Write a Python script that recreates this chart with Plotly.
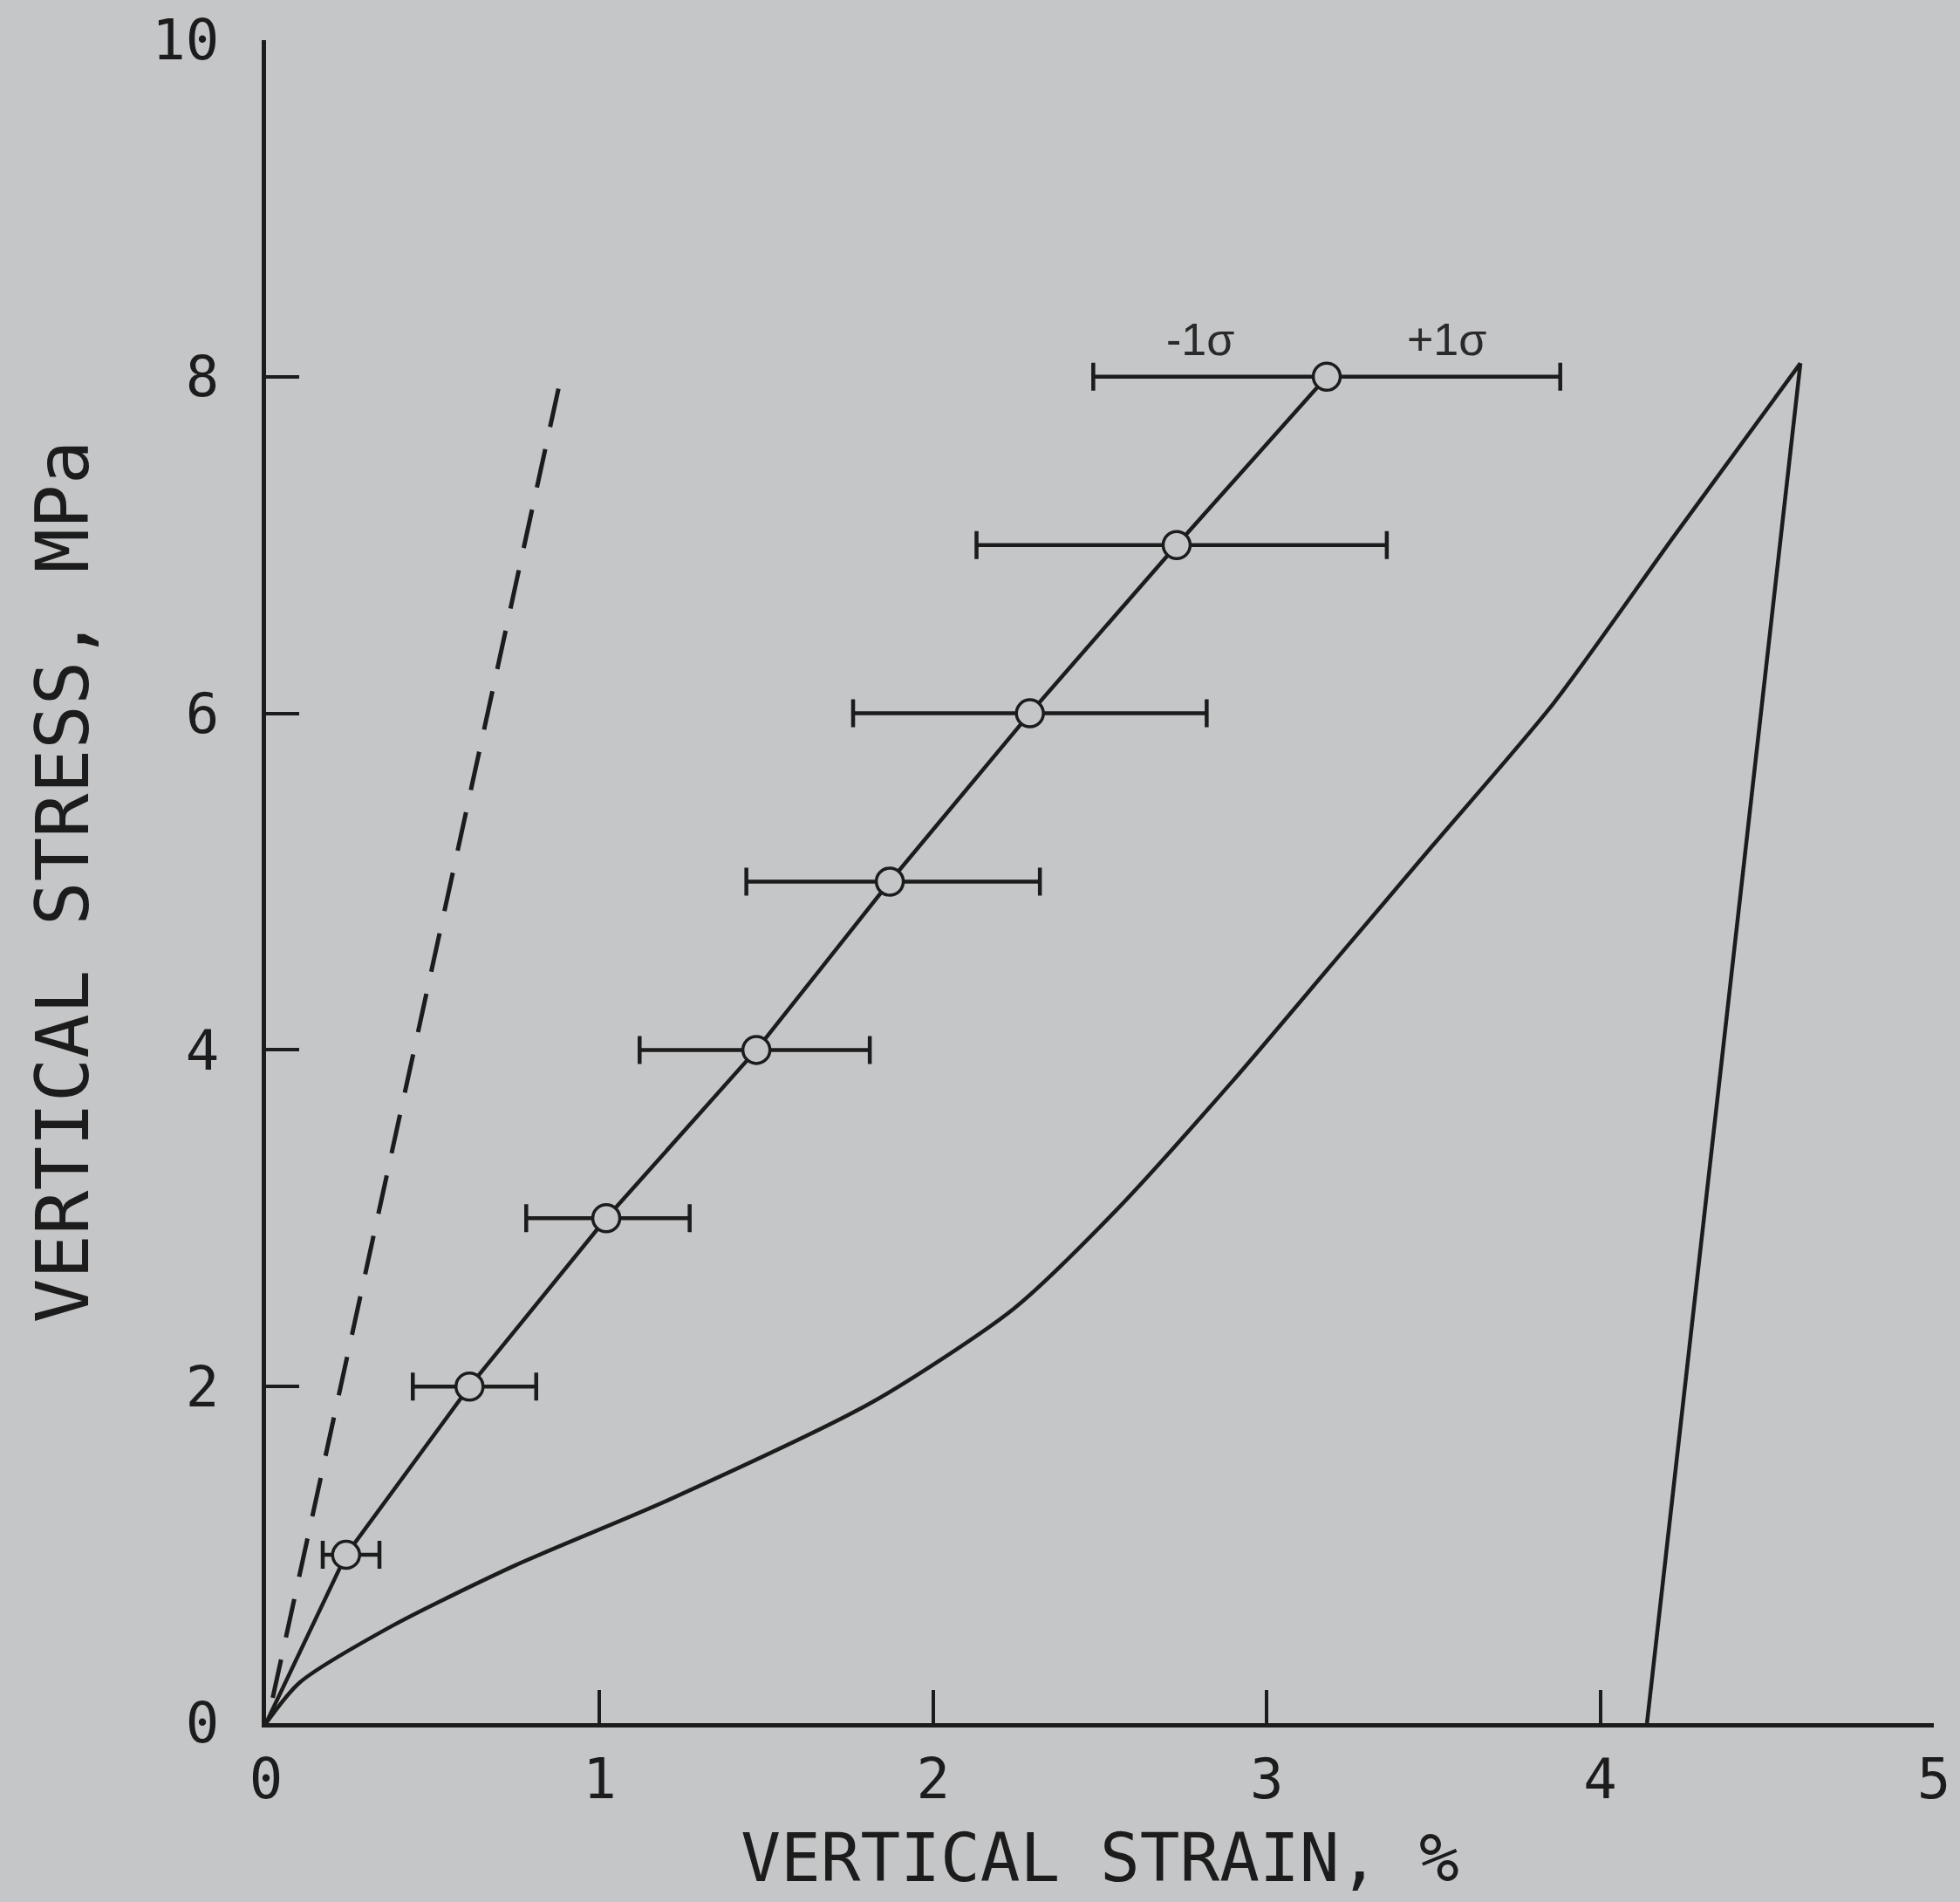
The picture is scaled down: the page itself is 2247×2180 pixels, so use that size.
import plotly.graph_objects as go

# ---- data ----
stress_levels = [1, 2, 3, 4, 5, 6, 7, 8]                      # MPa
mean_strain = [0.24, 0.61, 1.02, 1.47, 1.87, 2.29, 2.73, 3.18]  # %
minus_sigma = [0.07, 0.17, 0.24, 0.35, 0.43, 0.53, 0.60, 0.70]
plus_sigma = [0.10, 0.20, 0.25, 0.34, 0.45, 0.53, 0.63, 0.70]

dashed_strain = [0.02, 0.89]
dashed_stress = [0.15, 8.05]

loading_strain = [0.0, 0.10, 0.38, 0.75, 1.20, 1.82, 2.24, 2.55, 2.90,
                  3.20, 3.50, 3.86, 4.22, 4.60]
loading_stress = [0.0, 0.24, 0.58, 0.94, 1.32, 1.91, 2.46, 3.05, 3.82,
                  4.52, 5.22, 6.06, 7.05, 8.08]
unloading_strain = [4.60, 4.14]
unloading_stress = [8.08, 0.0]

sigma_labels = ["-1σ", "+1σ"]
sigma_label_x = [2.80, 3.54]
sigma_label_y = [8.22, 8.22]

x_ticks = [0, 1, 2, 3, 4, 5]
y_ticks = [0, 2, 4, 6, 8, 10]

BG = "#c5c6c8"
INK = "#1c1c1c"
MONO = "DejaVu Sans Mono"

fig = go.Figure()

# dashed reference line
fig.add_trace(go.Scatter(x=dashed_strain, y=dashed_stress, mode="lines",
                         line=dict(color=INK, width=5, dash="45px,26px"),
                         showlegend=False, hoverinfo="skip"))

# loading curve (smooth) and unloading line
fig.add_trace(go.Scatter(x=loading_strain, y=loading_stress, mode="lines",
                         line=dict(color=INK, width=4.5, shape="spline", smoothing=0.7),
                         showlegend=False, hoverinfo="skip"))
fig.add_trace(go.Scatter(x=unloading_strain, y=unloading_stress, mode="lines",
                         line=dict(color=INK, width=4.5),
                         showlegend=False, hoverinfo="skip"))

# mean curve through origin
fig.add_trace(go.Scatter(x=[0.0] + mean_strain, y=[0.0] + stress_levels,
                         mode="lines", line=dict(color=INK, width=4.5),
                         showlegend=False, hoverinfo="skip"))

# mean points with +-1 sigma bars
fig.add_trace(go.Scatter(x=mean_strain, y=stress_levels, mode="markers",
                         marker=dict(symbol="circle", size=31, color=BG,
                                     line=dict(color=INK, width=3.5)),
                         error_x=dict(type="data", symmetric=False,
                                      array=plus_sigma, arrayminus=minus_sigma,
                                      color=INK, thickness=4.5, width=16),
                         showlegend=False))

for txt, xx, yy in zip(sigma_labels, sigma_label_x, sigma_label_y):
    fig.add_annotation(x=xx, y=yy, text=txt, showarrow=False,
                       font=dict(family="Liberation Sans", size=52, color="#2a2a2a"))

axis_common = dict(showgrid=False, zeroline=False, showline=True,
                   linecolor=INK, linewidth=5, ticks="inside",
                   tickwidth=4, ticklen=38, tickcolor=INK,
                   tickfont=dict(family=MONO, size=64, color=INK))

fig.update_xaxes(range=[0, 5], tickvals=x_ticks, ticktext=[str(v) for v in x_ticks],
                 ticklabelstandoff=4,
                 title=dict(text="VERTICAL STRAIN, %", standoff=30,
                            font=dict(family=MONO, size=76, color=INK)),
                 **axis_common)
fig.update_yaxes(range=[0, 10], tickvals=y_ticks, ticktext=[str(v) for v in y_ticks],
                 ticklabelstandoff=36,
                 title=dict(text="VERTICAL STRESS, MPa", standoff=46,
                            font=dict(family=MONO, size=84, color=INK)),
                 **axis_common)

fig.update_layout(width=2247, height=2180,
                  margin=dict(l=305, r=30, t=46, b=205, autoexpand=False),
                  paper_bgcolor=BG, plot_bgcolor=BG, showlegend=False)

fig.write_html("out.html", config={"displayModeBar": False},
               post_script="document.body.style.margin='0';document.body.style.padding='0';"
                           "document.body.style.background='" + BG + "';")
